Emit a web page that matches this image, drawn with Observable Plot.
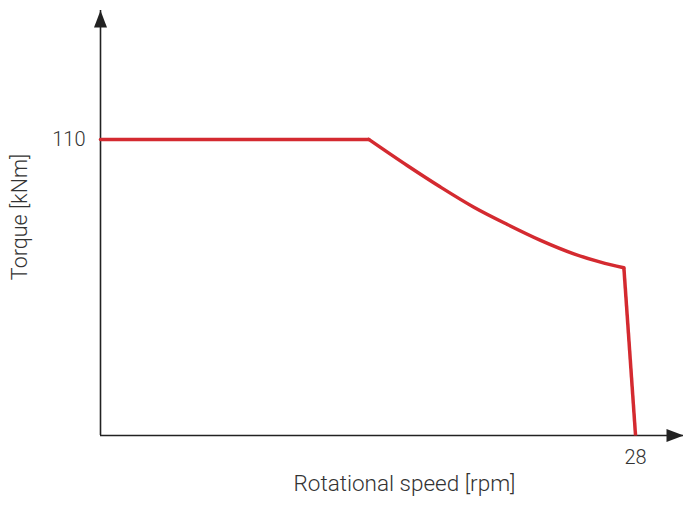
<!DOCTYPE html>
<html>
<head>
<meta charset="utf-8">
<script src="https://cdn.jsdelivr.net/npm/d3@7"></script>
<script src="https://cdn.jsdelivr.net/npm/@observablehq/plot@0.6"></script>
<style>
  body { margin: 0; background: #fff; }
  svg { font-family: Roboto, "Liberation Sans", sans-serif; }
</style>
</head>
<body>
<div id="chart"></div>
<script>
// Rotational speed [rpm]
const speed = [0, 14.04, 16.05, 17.79, 19.54, 21.29, 23.03, 24.77, 26.17, 27.39, 28];
// Torque [kNm]
const torque = [110, 110, 100.3, 92.3, 84.8, 78.4, 72.5, 67.5, 64.4, 62.3, 0];
// Segment of the curve each point belongs to (constant, decreasing, cut-off)
const segment = ["a", "a", "b", "b", "b", "b", "b", "b", "b", "b", "c"];
const xTicks = [28];
const yTicks = [110];
const xLabel = "Rotational speed [rpm]";
const yLabel = "Torque [kNm]";
const xMax = 30.51;
const yMax = 157.9;

const pts = speed.map((s, i) => ({speed: s, torque: torque[i], seg: segment[i]}));
// Build segments sharing their end points
const segData = [];
["a", "b", "c"].forEach((g, gi) => {
  const idx = pts.map((p, i) => p.seg === g ? i : -1).filter(i => i >= 0);
  let first = idx[0], last = idx[idx.length - 1];
  if (gi > 0) first = first - 1;
  idx.length && d3.range(first, last + 1).forEach(i => segData.push({...pts[i], g}));
});

const upArrow = {draw(ctx) { ctx.moveTo(0, 0); ctx.lineTo(6.5, 17); ctx.lineTo(-6.5, 17); ctx.closePath(); }};
const rightArrow = {draw(ctx) { ctx.moveTo(0, 0); ctx.lineTo(-17, -6.5); ctx.lineTo(-17, 6.5); ctx.closePath(); }};

const red = "#d42a30";
const chart = Plot.plot({
  width: 683,
  height: 507,
  marginLeft: 100,
  marginRight: 0,
  marginTop: 10,
  marginBottom: 72,
  style: {fontSize: "20px", color: "#333", fontWeight: 300},
  x: {domain: [0, xMax]},
  y: {domain: [0, yMax]},
  marks: [
    Plot.axisY({ticks: yTicks, tickSize: 0, tickPadding: 15, label: null, tickFormat: d => String(d), fill: "#333"}),
    Plot.axisX({ticks: xTicks, tickSize: 0, tickPadding: 14, label: null, tickFormat: d => String(d), fill: "#333"}),
    Plot.ruleX([0], {stroke: "#222", strokeWidth: 1.6}),
    Plot.ruleY([0], {stroke: "#222", strokeWidth: 1.6}),
    Plot.dot([{x: 0, y: yMax}], {x: "x", y: "y", symbol: upArrow, fill: "#222", stroke: "none"}),
    Plot.dot([{x: xMax, y: 0}], {x: "x", y: "y", symbol: rightArrow, fill: "#222", stroke: "none"}),
    Plot.line(segData.filter(d => d.g === "a"), {x: "speed", y: "torque", stroke: red, strokeWidth: 3.5, strokeLinecap: "round"}),
    Plot.line(segData.filter(d => d.g === "b"), {x: "speed", y: "torque", stroke: red, strokeWidth: 3.5, curve: "monotone-x", strokeLinecap: "round"}),
    Plot.line(segData.filter(d => d.g === "c"), {x: "speed", y: "torque", stroke: red, strokeWidth: 3.5, strokeLinecap: "butt"}),
    Plot.text([xLabel], {frameAnchor: "bottom", text: d => d, dx: 12.5, dy: 55, fill: "#333", fontSize: 22.5}),
    Plot.text([yLabel], {frameAnchor: "left", textAnchor: "middle", text: d => d, rotate: -90, dx: -80, dy: -6, fill: "#333", fontSize: 21.5})
  ]
});
document.getElementById("chart").appendChild(chart);
</script>
</body>
</html>
